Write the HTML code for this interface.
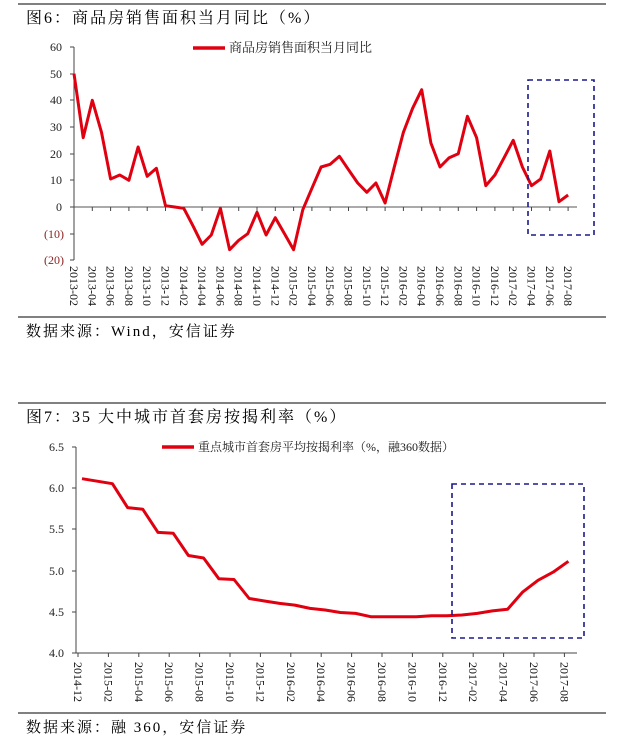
<!DOCTYPE html>
<html><head><meta charset="utf-8"><style>
html,body{margin:0;padding:0;background:#fff;}
svg{display:block;font-family:"Liberation Serif","Noto Serif CJK SC","Noto Sans CJK SC",serif;}
</style></head><body>
<svg width="629" height="746" viewBox="0 0 629 746" xmlns="http://www.w3.org/2000/svg">
<line x1="18" y1="4" x2="606" y2="4" stroke="#000" stroke-width="1"/>
<text x="26" y="23" font-size="16" letter-spacing="2" fill="#000">图6：商品房销售面积当月同比（%）</text>
<g font-size="12" text-anchor="end">
<text x="62" y="51" fill="#222">60</text>
<text x="62" y="78" fill="#222">50</text>
<text x="62" y="104" fill="#222">40</text>
<text x="62" y="131" fill="#222">30</text>
<text x="62" y="158" fill="#222">20</text>
<text x="62" y="184" fill="#222">10</text>
<text x="62" y="211" fill="#222">0</text>
<text x="64" y="238" fill="#8b2323">(10)</text>
<text x="64" y="264" fill="#8b2323">(20)</text>
</g>
<line x1="74" y1="47" x2="74" y2="260" stroke="#444"/>
<g stroke="#444"><line x1="70" y1="47" x2="74" y2="47"/><line x1="70" y1="74" x2="74" y2="74"/><line x1="70" y1="100" x2="74" y2="100"/><line x1="70" y1="127" x2="74" y2="127"/><line x1="70" y1="154" x2="74" y2="154"/><line x1="70" y1="180" x2="74" y2="180"/><line x1="70" y1="207" x2="74" y2="207"/><line x1="70" y1="234" x2="74" y2="234"/><line x1="70" y1="260" x2="74" y2="260"/></g>
<line x1="74" y1="207" x2="577" y2="207" stroke="#555"/>
<g id="c1"></g>
<rect x="528" y="80" width="66" height="155" fill="none" stroke="#1a1a8c" stroke-width="1.6" stroke-dasharray="5,4"/>
<line x1="193" y1="48" x2="225" y2="48" stroke="#e00010" stroke-width="3.5"/>
<text x="229" y="52" font-size="13" fill="#222">商品房销售面积当月同比</text>
<line x1="18" y1="317" x2="606" y2="317" stroke="#000"/>
<text x="26" y="336" font-size="15" letter-spacing="2" fill="#000">数据来源：Wind，安信证券</text>

<line x1="18" y1="403" x2="606" y2="403" stroke="#000"/>
<text x="26" y="422" font-size="16" letter-spacing="2" fill="#000">图7：35 大中城市首套房按揭利率（%）</text>
<g font-size="12" text-anchor="end" fill="#222">
<text x="64" y="451">6.5</text><text x="64" y="492">6.0</text><text x="64" y="533">5.5</text><text x="64" y="575">5.0</text><text x="64" y="616">4.5</text><text x="64" y="657">4.0</text>
</g>
<line x1="76" y1="447" x2="76" y2="653" stroke="#444"/>
<line x1="76" y1="653" x2="577" y2="653" stroke="#444"/>
<g stroke="#444"><line x1="72" y1="447" x2="76" y2="447"/><line x1="72" y1="488" x2="76" y2="488"/><line x1="72" y1="529" x2="76" y2="529"/><line x1="72" y1="571" x2="76" y2="571"/><line x1="72" y1="612" x2="76" y2="612"/><line x1="72" y1="653" x2="76" y2="653"/></g>
<g id="c2"></g>
<rect x="452" y="484" width="132" height="154" fill="none" stroke="#1a1a8c" stroke-width="1.6" stroke-dasharray="5,4"/>
<line x1="162" y1="447" x2="194" y2="447" stroke="#e00010" stroke-width="3.5"/>
<text x="198" y="451" font-size="12" fill="#222">重点城市首套房平均按揭利率（%，融360数据）</text>
<line x1="18" y1="713" x2="606" y2="713" stroke="#000"/>
<text x="26" y="732" font-size="15" letter-spacing="2" fill="#000">数据来源：融 360，安信证券</text>
</svg>
<script>
var NS="http://www.w3.org/2000/svg";
function el(p,t,a,txt){var e=document.createElementNS(NS,t);for(var k in a)e.setAttribute(k,a[k]);if(txt)e.textContent=txt;p.appendChild(e);return e;}
var d1=[50,26,40,28,10.5,12,10,22.5,11.5,14.5,0.5,0,-0.5,-7,-14,-10.5,-0.5,-16,-12.5,-10,-2,-10.5,-4,-10,-16,-1,7,15,16,19,14,9,5.5,9,1.5,15,28,37,44,24,15,18.5,20,34,26,8,12,18.5,25,15,8,10.5,21,2,4.5];
var g1=document.getElementById("c1"),pts=[];
for(var i=0;i<d1.length;i++){var x=74+i*9.15;pts.push(x.toFixed(1)+","+(207-d1[i]*2.667).toFixed(1));
if(i%2==0){var y=2013+Math.floor((i+1)/12),m=(i+1)%12+1;
el(g1,"line",{x1:x,y1:207,x2:x,y2:211,stroke:"#444"});
var lb=y+"-"+(m<10?"0":"")+m;
el(g1,"text",{x:0,y:0,"font-size":"12",fill:"#111",transform:"translate("+(x-4)+",266) rotate(90)"},lb);}}
el(g1,"polyline",{points:pts.join(" "),fill:"none",stroke:"#e00010","stroke-width":"3","stroke-linejoin":"round"});
var d2=[6.11,6.08,6.05,5.76,5.74,5.46,5.45,5.18,5.15,4.90,4.89,4.66,4.63,4.60,4.58,4.54,4.52,4.49,4.48,4.44,4.44,4.44,4.44,4.45,4.45,4.46,4.48,4.51,4.53,4.74,4.88,4.98,5.11];
var g2=document.getElementById("c2");pts=[];
for(var i=0;i<d2.length;i++){var x=82+i*15.2;pts.push(x.toFixed(1)+","+(653-(d2[i]-4)*82.6).toFixed(1));
if(i%2==0){var mm=11+i,y=2014+Math.floor(mm/12),m=mm%12+1;
el(g2,"line",{x1:x-4,y1:653,x2:x-4,y2:657,stroke:"#444"});
el(g2,"text",{x:0,y:0,"font-size":"12",fill:"#111",transform:"translate("+(x-8)+",662) rotate(90)"},y+"-"+(m<10?"0":"")+m);}}
el(g2,"polyline",{points:pts.join(" "),fill:"none",stroke:"#e00010","stroke-width":"3","stroke-linejoin":"round"});
</script>
</body></html>
